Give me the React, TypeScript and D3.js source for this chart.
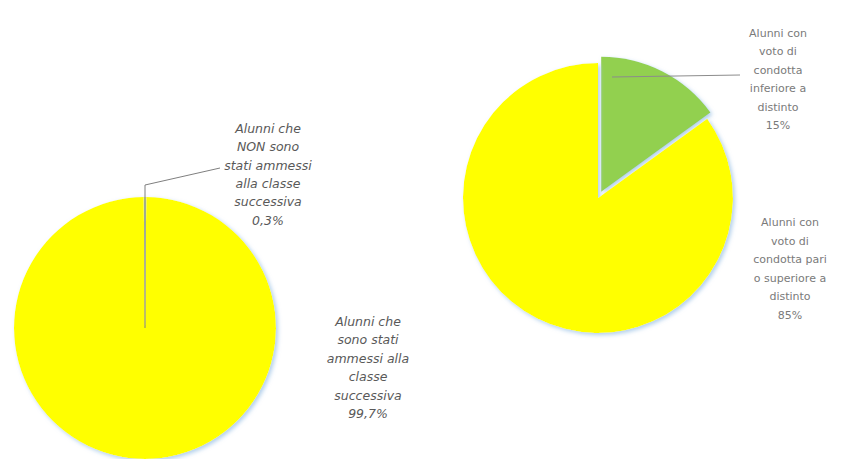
import React, { useEffect, useRef } from 'react';
import * as d3 from 'd3';

// Left pie: promoted vs not promoted
const ammissioneLabels = ['Alunni che sono stati ammessi alla classe successiva', 'Alunni che NON sono stati ammessi alla classe successiva'];
const ammissioneValues = [99.7, 0.3];
const ammissioneColors = ['#FFFF00', '#E8F25A'];
const ammissioneTextLines = [
  ['Alunni che', 'sono stati', 'ammessi alla', 'classe', 'successiva', '99,7%'],
  ['Alunni che', 'NON sono', 'stati ammessi', 'alla classe', 'successiva', '0,3%'],
];

// Right pie: conduct grade
const condottaLabels = ['Alunni con voto di condotta inferiore a distinto', 'Alunni con voto di condotta pari o superiore a distinto'];
const condottaValues = [15, 85];
const condottaColors = ['#92D050', '#FFFF00'];
const condottaTextLines = [
  ['Alunni con', 'voto di', 'condotta', 'inferiore a', 'distinto', '15%'],
  ['Alunni con', 'voto di', 'condotta pari', 'o superiore a', 'distinto', '85%'],
];

const W = 845;
const H = 459;

const App: React.FC = () => {
  const ref = useRef<SVGSVGElement | null>(null);

  useEffect(() => {
    if (!ref.current) return;
    const svg = d3.select(ref.current);
    svg.selectAll('*').remove();

    const defs = svg.append('defs');
    const f = defs.append('filter').attr('id', 'glow').attr('x', '-10%').attr('y', '-10%').attr('width', '120%').attr('height', '120%');
    f.append('feDropShadow')
      .attr('dx', 2)
      .attr('dy', 2)
      .attr('stdDeviation', 2)
      .attr('flood-color', '#9dc3e6')
      .attr('flood-opacity', 0.8);

    const font = "'DejaVu Sans', sans-serif";

    // ---- left pie ----
    const r1 = 131;
    const c1 = { x: 145, y: 328 };
    const small = (ammissioneValues[1] / 100) * Math.PI * 2;
    const pie1 = d3
      .pie<number>()
      .sort(null)
      .startAngle(-small / 2)
      .endAngle(Math.PI * 2 - small / 2);
    // small slice first so it sits at 12 o'clock
    const arcs1 = pie1([ammissioneValues[1], ammissioneValues[0]]);
    const arc1 = d3.arc<d3.PieArcDatum<number>>().innerRadius(0).outerRadius(r1);
    const g1 = svg.append('g').attr('transform', `translate(${c1.x},${c1.y})`);
    g1.selectAll('path')
      .data(arcs1)
      .enter()
      .append('path')
      .attr('d', arc1)
      .attr('fill', (d, i) => (i === 0 ? ammissioneColors[1] : ammissioneColors[0]))
      .attr('filter', 'url(#glow)');

    // leader line for 0,3%
    g1.append('path')
      .attr('d', `M0,0 L0,${185 - c1.y} L${220 - c1.x},${168 - c1.y}`)
      .attr('fill', 'none')
      .attr('stroke', '#7f7f7f')
      .attr('stroke-width', 1);

    const drawLines = (lines: string[], x: number, y0: number, dy: number, size: number, italic: boolean, color: string) => {
      const t = svg
        .append('text')
        .attr('x', x)
        .attr('y', y0)
        .attr('text-anchor', 'middle')
        .attr('font-family', font)
        .attr('font-size', size)
        .attr('font-style', italic ? 'italic' : 'normal')
        .attr('fill', color);
      lines.forEach((l, i) => {
        t.append('tspan').attr('x', x).attr('dy', i === 0 ? 0 : dy).text(l);
      });
    };

    drawLines(ammissioneTextLines[1], 268, 133, 18.3, 12.5, true, '#595959');
    drawLines(ammissioneTextLines[0], 368, 326, 18.4, 12.5, true, '#595959');

    // ---- right pie ----
    const r2 = 135;
    const c2 = { x: 598, y: 198 };
    const pie2 = d3.pie<number>().sort(null);
    const arcs2 = pie2(condottaValues);
    const arc2 = d3.arc<d3.PieArcDatum<number>>().innerRadius(0).outerRadius(r2);
    const g2 = svg.append('g').attr('transform', `translate(${c2.x},${c2.y})`);
    g2.selectAll('path')
      .data(arcs2)
      .enter()
      .append('path')
      .attr('d', arc2)
      .attr('fill', (d, i) => condottaColors[i])
      .attr('filter', 'url(#glow)')
      .attr('transform', (d, i) => {
        if (i !== 0) return null;
        const a = (d.startAngle + d.endAngle) / 2;
        const off = 7;
        return `translate(${Math.sin(a) * off},${-Math.cos(a) * off})`;
      });

    // leader line for 15%
    svg
      .append('line')
      .attr('x1', 612)
      .attr('y1', 77)
      .attr('x2', 740)
      .attr('y2', 75)
      .attr('stroke', '#8c8c8c')
      .attr('stroke-width', 1);

    drawLines(condottaTextLines[0], 778, 37, 18.4, 11, false, '#7a7a7a');
    drawLines(condottaTextLines[1], 790, 226, 18.5, 11, false, '#7a7a7a');

    svg.append('title').text([...ammissioneLabels, ...condottaLabels].join('; '));
  }, []);

  return (
    <svg
      ref={ref}
      width={W}
      height={H}
      style={{ position: 'absolute', left: 0, top: 0, background: '#ffffff' }}
    />
  );
};

export default App;
